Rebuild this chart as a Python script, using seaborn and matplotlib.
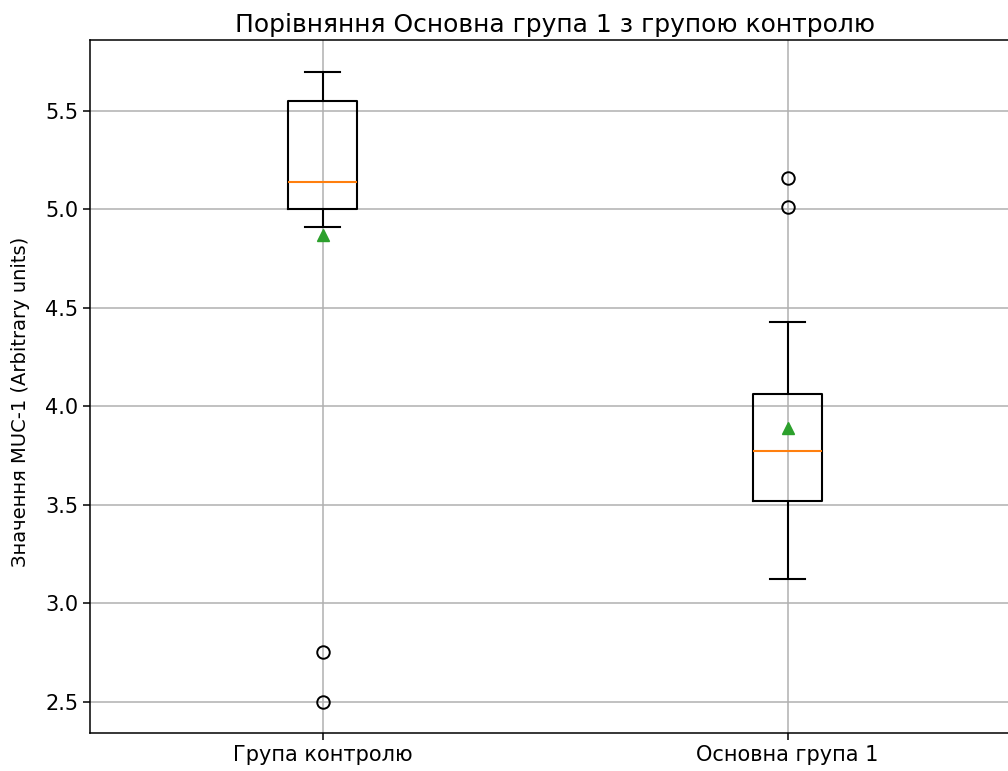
import pandas as pd
import seaborn as sns
import matplotlib.pyplot as plt

# values (arbitrary units)
groups = ['Група контролю', 'Основна група 1']
control_values = [2.50, 2.75, 4.91, 5.03, 5.05, 5.12, 5.16, 5.40, 5.53, 5.61, 5.70, 5.70]
group1_values = [3.12, 3.20, 3.35, 3.52, 3.60, 3.70, 3.77, 3.80, 3.85, 4.06, 4.43, 5.01, 5.16]

df = pd.DataFrame({
    'group': [groups[0]] * len(control_values) + [groups[1]] * len(group1_values),
    'value': control_values + group1_values,
})

fig = plt.figure(figsize=(10.08, 7.71), dpi=100)
ax = fig.add_axes([90 / 1008, 38 / 771, 930 / 1008, 693 / 771])

sns.boxplot(data=df, x='group', y='value', order=groups, ax=ax,
            width=0.15, whis=1.5, fill=False, color='black', linewidth=1.5,
            showmeans=True,
            medianprops={'color': '#ff7f0e', 'linewidth': 1.5},
            meanprops={'marker': '^', 'markerfacecolor': '#2ca02c',
                       'markeredgecolor': '#2ca02c', 'markersize': 9},
            flierprops={'marker': 'o', 'markerfacecolor': 'none',
                        'markeredgecolor': 'black', 'markersize': 9,
                        'markeredgewidth': 1.4})

ax.set_xlim(-0.5, 1.5)
ax.set_ylim(2.34, 5.86)
ax.set_yticks([2.5, 3.0, 3.5, 4.0, 4.5, 5.0, 5.5])
ax.grid(True, color='#b0b0b0', linewidth=1.1)
ax.set_axisbelow(True)
for s in ax.spines.values():
    s.set_linewidth(1.1)
ax.set_xlabel('')
ax.set_ylabel('Значення MUC-1 (Arbitrary units)', fontsize=14)
ax.yaxis.set_label_coords(-0.065, 0.478)
ax.set_title('Порівняння Основна група 1 з групою контролю', fontsize=18)
ax.tick_params(labelsize=15, width=1.1, length=5)

fig.savefig('out.png', dpi=100)
